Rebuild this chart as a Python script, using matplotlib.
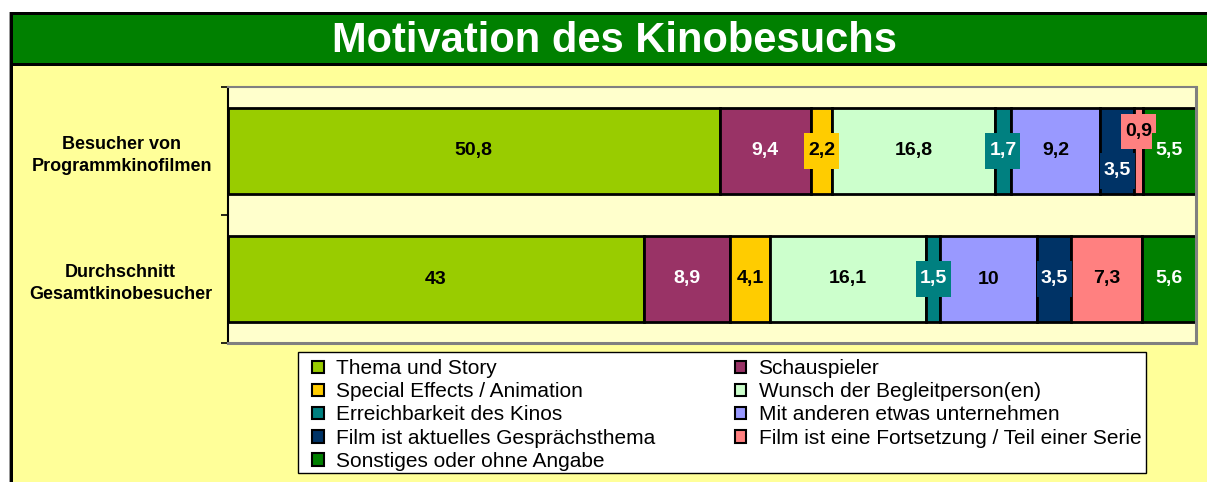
import matplotlib
matplotlib.use("Agg")
import matplotlib.pyplot as plt
from matplotlib.patches import Rectangle
from matplotlib.path import Path
import numpy as np

plt.rcParams['font.family'] = ['Liberation Sans', 'DejaVu Sans']

# ---------------- data ----------------
title = "Motivation des Kinobesuchs"
groups = ["Besucher von\nProgrammkinofilmen", "Durchschnitt\nGesamtkinobesucher"]
series_names = [
    "Thema und Story",
    "Schauspieler",
    "Special Effects / Animation",
    "Wunsch der Begleitperson(en)",
    "Erreichbarkeit des Kinos",
    "Mit anderen etwas unternehmen",
    "Film ist aktuelles Gesprächsthema",
    "Film ist eine Fortsetzung / Teil einer Serie",
    "Sonstiges oder ohne Angabe",
]
programmkino = [50.8, 9.4, 2.2, 16.8, 1.7, 9.2, 3.5, 0.9, 5.5]
gesamt = [43, 8.9, 4.1, 16.1, 1.5, 10, 3.5, 7.3, 5.6]
value_labels = [
    ["50,8", "9,4", "2,2", "16,8", "1,7", "9,2", "3,5", "0,9", "5,5"],
    ["43", "8,9", "4,1", "16,1", "1,5", "10", "3,5", "7,3", "5,6"],
]

# ---------------- styles ----------------
colors = ["#99CC00", "#993366", "#FFCC00", "#CCFFCC", "#008080",
          "#9999FF", "#003366", "#FF8080", "#008000"]
text_colors = ["black", "white", "black", "black", "white",
               "black", "white", "black", "white"]
# vertical nudge of a few crowded labels (row, series) -> offset in category units
label_nudge = {(0, 6): 0.155, (0, 7): -0.152}

W, H = 1207, 482
fig = plt.figure(figsize=(W / 100, H / 100), dpi=100, facecolor="white")

# ---- decorative frame (pixel coordinates) ----
bg = fig.add_axes([0, 0, 1, 1], zorder=-5)
bg.set_xlim(0, W)
bg.set_ylim(H, 0)
bg.axis("off")
bg.add_patch(Rectangle((10, 13), W - 10, H - 13, facecolor="#FFFF99", edgecolor="none"))
bg.add_patch(Rectangle((10, 13), W - 10, 51, facecolor="#008000", edgecolor="none"))
bg.add_patch(Rectangle((10, 12), W - 10, 3, facecolor="black", edgecolor="none"))
bg.add_patch(Rectangle((10, 63), W - 10, 3, facecolor="black", edgecolor="none"))
bg.add_patch(Rectangle((10, 12), 3, H - 12, facecolor="black", edgecolor="none"))
bg.add_patch(Rectangle((9, 12), 1, H - 12, facecolor="#999999", edgecolor="none"))
bg.text(615, 41, title, color="white", fontsize=30, fontweight="bold",
        ha="center", va="center")

# ---- plot area ----
left, right, top, bottom = 228, 1196, 87, 343
ax = fig.add_axes([left / W, 1 - bottom / H, (right - left) / W, (bottom - top) / H])
ax.set_facecolor("#FFFFCC")

data = [programmkino, gesamt]
y = np.arange(len(groups))
bar_h = 0.67


def make_box(pl, pr, pb, pt):
    def box(x0, y0, width, height, mutation_size):
        l = x0 - pl * mutation_size
        r = x0 + width + pr * mutation_size
        b = y0 - pb * mutation_size
        t = y0 + height + pt * mutation_size
        return Path([(l, b), (r, b), (r, t), (l, t), (l, b)], closed=True)
    return box


label_box = make_box(0.2, 0.2, 0.48, 0.48)
legend_box = make_box(0.48, 0.05, -0.1, 0.14)

handles = []
for si, name in enumerate(series_names):
    vals = [row[si] for row in data]
    lefts = [sum(row[:si]) for row in data]
    bars = ax.barh(y, vals, left=lefts, height=bar_h, color=colors[si],
                   edgecolor="black", linewidth=2, label=name, zorder=2)
    handles.append(bars)
    for gi in range(len(groups)):
        xc = lefts[gi] + vals[gi] / 2
        yc = y[gi] + label_nudge.get((gi, si), 0)
        ax.text(xc, yc, value_labels[gi][si], ha="center", va="center",
                fontsize=14, fontweight="bold", color=text_colors[si], zorder=5,
                bbox=dict(boxstyle=label_box, facecolor=colors[si], edgecolor="none"))

ax.set_xlim(0, 100)
ax.set_ylim(len(groups) - 0.5, -0.5)
ax.set_xticks([])
ax.set_yticks(y)
ax.set_yticklabels(groups, fontsize=13, fontweight="bold",
                   multialignment="center", linespacing=1.35)
ax.tick_params(axis="y", which="major", length=0, pad=11.5)
ax.set_yticks(np.arange(len(groups) + 1) - 0.5, minor=True)
ax.tick_params(axis="y", which="minor", length=5, width=1.2, color="black")
ax.spines["left"].set_color("black")
ax.spines["left"].set_linewidth(1.5)
ax.spines["top"].set_color("#808080")
ax.spines["top"].set_linewidth(1.5)
for s in ["right", "bottom"]:
    ax.spines[s].set_color("#808080")
    ax.spines[s].set_linewidth(2.2)

# ---- legend (row-major order as in original) ----
order = [0, 2, 4, 6, 8, 1, 3, 5, 7]
leg = fig.legend([handles[i] for i in order], [series_names[i] for i in order],
                 ncol=2, loc="upper left", bbox_to_anchor=(308 / W, 1 - 355 / H),
                 fontsize=15, frameon=True, fancybox=False, shadow=False,
                 framealpha=1, edgecolor="black", facecolor="white",
                 handlelength=0.55, handleheight=0.55, handletextpad=0.6,
                 labelspacing=0.2, columnspacing=3.8, borderpad=0.2,
                 borderaxespad=0)
leg.get_frame().set_linewidth(1)
leg.get_frame().set_boxstyle(legend_box)
for p in leg.get_patches():
    p.set_linewidth(1.5)

fig.savefig("out.png", dpi=100, facecolor=fig.get_facecolor())
